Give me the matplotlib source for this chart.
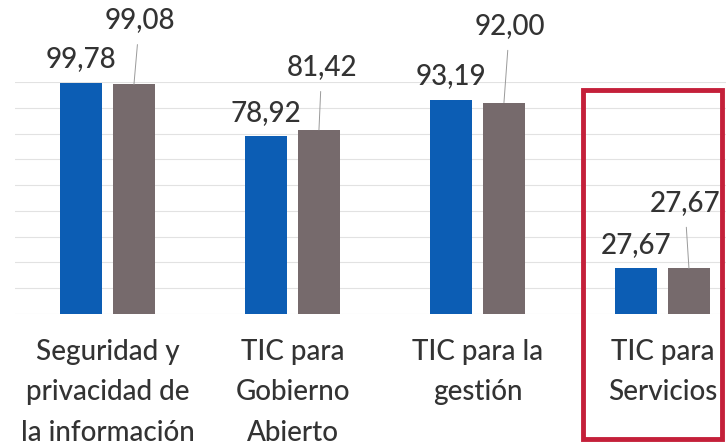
import matplotlib.pyplot as plt
from matplotlib.patches import Rectangle
import numpy as np

# data
categories = ['Seguridad y\nprivacidad de\nla información',
              'TIC para\nGobierno\nAbierto',
              'TIC para la\ngestión',
              'TIC para\nServicios']
serie_a = [99.78, 78.92, 93.19, 27.67]
serie_b = [99.08, 81.42, 92.00, 27.67]
labels_a = ['99,78', '78,92', '93,19', '27,67']
labels_b = ['99,08', '81,42', '92,00', '27,67']

# label offsets for the gray series (points)
offs_b = [(4, 46), (2, 45), (4, 55), (-3, 47)]

plt.rcParams['font.family'] = ['Lato', 'DejaVu Sans']
plt.rcParams['font.weight'] = 'medium'

fig = plt.figure(figsize=(7.26, 4.42), dpi=100)
ax = fig.add_axes([15 / 726, 1 - 314 / 442, 1 - 15 / 726, (314 - 82) / 442])

x = np.arange(len(categories))
w = 0.227
d = 0.143
blue = '#0C5DB4'
gray = '#766A6C'
txt = '#333333'

ax.bar(x - d, serie_a, w, color=blue, zorder=2)
ax.bar(x + d, serie_b, w, color=gray, zorder=2)

for xi, v, lab in zip(x, serie_a, labels_a):
    ax.annotate(lab, (xi - d, v), xytext=(0, 17), textcoords='offset points',
                ha='center', va='center', fontsize=20, color=txt,
                annotation_clip=False)

for xi, v, lab, (dx, dy) in zip(x, serie_b, labels_b, offs_b):
    ax.annotate(lab, (xi + d, v), xytext=(dx, dy), textcoords='offset points',
                ha='center', va='center', fontsize=20, color=txt,
                annotation_clip=False,
                arrowprops=dict(arrowstyle='-', color='#9A9A9A', lw=0.7,
                                shrinkA=6, shrinkB=0))

ax.set_xlim(-0.5, (726 - 107.5) / 185)
ax.set_ylim(10, 100)
ax.set_yticks(range(10, 101, 10))
ax.yaxis.grid(True, color='#E2E2E2', lw=0.8)
ax.set_axisbelow(True)
ax.tick_params(axis='y', left=False, labelleft=False)
ax.set_xticks(x)
ax.set_xticklabels(categories, fontsize=20, color=txt, linespacing=1.68)
ax.tick_params(axis='x', length=0, pad=18)
for s in ax.spines.values():
    s.set_visible(False)

# red highlight box around the last group
box = Rectangle((583 / 726, 3 / 442), (722 - 583) / 726, (352 - 3) / 442,
                transform=fig.transFigure, fill=False, edgecolor='#C4203A',
                lw=3.5)
fig.patches.append(box)

fig.savefig('out.png', dpi=100)
